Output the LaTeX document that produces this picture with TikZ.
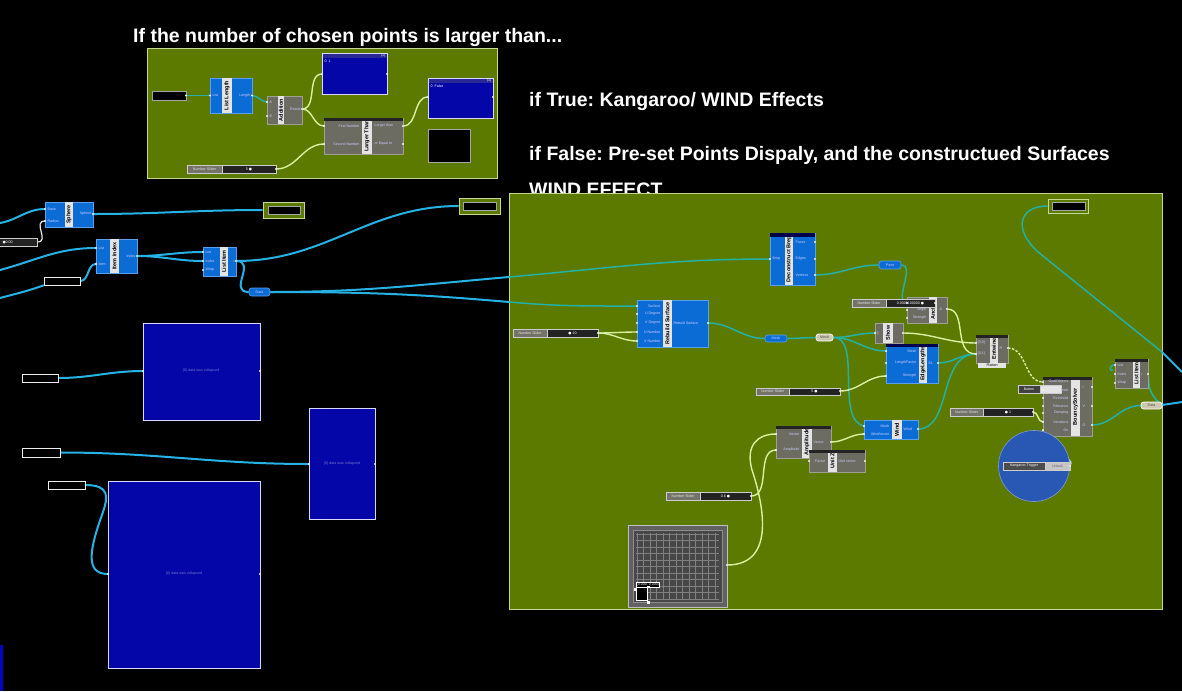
\documentclass[tikz,border=0pt]{standalone}
\usepackage{fontspec}
\setmainfont{Liberation Sans}
\newfontfamily\djv{DejaVu Sans}
\usetikzlibrary{fit,calc}
\definecolor{ghol}{RGB}{92,122,0}
\definecolor{ghbd}{RGB}{200,215,150}
\definecolor{ghblue}{RGB}{12,108,214}
\definecolor{ghblueb}{RGB}{90,160,235}
\definecolor{ghgray}{RGB}{108,108,98}
\definecolor{ghgrayb}{RGB}{160,160,145}
\definecolor{ghstrip}{RGB}{228,228,228}
\definecolor{ghpanel}{RGB}{4,6,168}
\definecolor{ghhead}{RGB}{40,40,150}
\definecolor{wcyan}{RGB}{38,178,228}
\definecolor{wteal}{RGB}{36,176,164}
\definecolor{wyel}{RGB}{216,240,160}
\definecolor{sdark}{RGB}{35,35,35}
\definecolor{slabc}{RGB}{115,115,105}
\definecolor{ghcirc}{RGB}{40,88,180}
\definecolor{ghbeige}{RGB}{205,200,175}
\pgfdeclarelayer{bg}
\pgfdeclarelayer{wires}
\pgfsetlayers{bg,wires,main}
\frenchspacing
\tikzset{
 gbox/.style={fill=ghol, draw=ghbd, line width=0.8pt, inner sep=0pt},
 compblue/.style={fill=ghblue, draw=ghblueb, line width=0.7pt, inner sep=0pt},
 compgray/.style={fill=ghgray, draw=ghgrayb, line width=0.7pt, inner sep=0pt},
 stripbox/.style={fill=ghstrip, draw=none, inner sep=0pt},
 striplab/.style={rotate=90, font=\fontsize{5.5}{6}\selectfont\bfseries, text=black, inner sep=0pt},
 plab/.style={font=\fontsize{3.6}{4}\selectfont, text=white!80!blue, inner sep=0.4pt},
 plw/.style={plab, anchor=west},
 ple/.style={plab, anchor=east},
 blkbox/.style={fill=black, draw=gray!70, line width=0.6pt, inner sep=0pt},
 wbbox/.style={fill=black, draw=white!85!gray, line width=0.45pt, inner sep=0pt},
 panelbox/.style={fill=ghpanel, draw=white!85!blue, line width=0.8pt, inner sep=0pt},
 pillb/.style={fill=ghblue, draw=ghblueb, rounded corners=2.5pt, line width=0.6pt, inner sep=0pt},
 pillg/.style={fill=ghbeige, draw=white, rounded corners=2.5pt, line width=0.6pt, inner sep=0pt},
 slabbox/.style={fill=slabc, draw=gray!40, line width=0.5pt, inner sep=0pt},
 svalbox/.style={fill=sdark, draw=gray!40, line width=0.5pt, inner sep=0pt},
 wc/.style={draw=wcyan, line width=2pt},
 wt/.style={draw=wteal, line width=1.5pt},
 wy/.style={draw=wyel, line width=1.4pt},
 portdot/.style={fill=white!90!gray},
 title/.style={font=\fontsize{19.5}{22}\selectfont\bfseries, text=white, anchor=base west, inner sep=0pt},
}
\newcommand\ghc[9]{%
 \node[#6, fit={(#2,#3)(#4,#5)}] (#1) {};
 \node[stripbox, fit={(#7,#3)(#8,#5)}] (#1s) {};
 \node[striplab] at (#1s.center) {#9};}
\newcommand\nslider[7]{%
 \node[slabbox, fit={(#2,#3)(#4,#6)}] (#1) {};
 \node[svalbox, fit={(#4,#3)(#5,#6)}] (#1v) {};
 \node[plab, text=white!80!gray] at (#1.center) {Number Slider};
 \node[plab, text=white] at (#1v.center) {#7};}
\newcommand\pd[3]{\coordinate (#1) at (#2,#3); \fill[portdot] (#1) circle (1.2pt);}
\begin{document}
\begin{tikzpicture}[x=1pt,y=-1pt]
\begin{pgfonlayer}{bg}
\fill[black] (0,0) rectangle (1182,691);
\node[title] (t1) at (133,42) {If the number of chosen points is larger than...};
\node[title] (t2) at (529,106) {if True: Kangaroo/ WIND Effects};
\node[title] (t3) at (529,160) {if False: Pre-set Points Dispaly, and the constructued Surfaces};
\node[title] (t4) at (529,196) {WIND EFFECT};
\node[gbox, fit={(147,48)(497,178)}] (G1) {};
\node[gbox, fit={(509,193)(1162,609)}] (G2) {};
\fill[ghpanel!70!blue] (0,645) rectangle (2.5,691);
\end{pgfonlayer}
\useasboundingbox (0,0) rectangle (1182,691);
% ---------- top group
\node[blkbox, fit={(152,91)(186,100)}] (s0) {};
\ghc{ll}{210}{78}{252}{113}{compblue}{222}{232}{List Length}
\node[plw] at (212,95.5) {List}; \node[ple] at (251,95.5) {Length};
\ghc{add}{267}{96}{302}{124}{compgray}{278}{284}{Addition}
\node[plw] at (269,102) {A}; \node[plw] at (269,116) {B}; \node[ple] at (301,109) {Result};
\node[panelbox, fit={(322,53)(387,94)}] (p1) {};
\fill[ghhead] (322.5,53.5) rectangle (386.5,58);
\node[plw, text=white] at (324,61.5) {0\ \ 1};
\node[ple, text=white] at (386,55.8) {(1)};
\node[panelbox, fit={(428,78)(493,118)}] (p2) {};
\fill[ghhead] (428.5,78.5) rectangle (492.5,83);
\node[plw, text=white] at (430,86.5) {0\ \ False};
\node[ple, text=white] at (492,80.8) {(1)};
\ghc{lt}{324}{118}{403}{154}{compgray}{362}{372}{Larger Than}
\fill[sdark] (324.4,118.4) rectangle (402.6,121);
\node[ple] at (360,126) {First Number}; \node[ple] at (360,144) {Second Number};
\node[plw] at (374,126) {Larger than}; \node[plw] at (374,144) {or Equal to};
\node[blkbox, fit={(428,129)(470,162)}] (bq) {};
\nslider{ns1}{187}{165}{222}{276}{173}{5 {\djv●}}
% ---------- left area
\ghc{sph}{45}{202}{93}{227}{compblue}{65}{73}{Sphere}
\node[plw] at (47,209) {Base}; \node[plw] at (47,221) {Radius}; \node[ple] at (92,214) {Sphere};
\node[gbox, fit={(263,202)(304,218)}] (gb1) {};
\node[blkbox, fit={(268,206)(300,214)}] (gb1i) {};
\node[gbox, fit={(459,198)(500,214)}] (gb2) {};
\node[blkbox, fit={(463,202)(496,210)}] (gb2i) {};
\node[svalbox, fit={(-2,238)(37,246)}] (sl0) {};
\node[plw, text=white] at (2,242) {{\djv●}0.00};
\ghc{ii}{96}{239}{137}{273}{compblue}{110}{119}{Item Index}
\node[plw] at (98,248) {List}; \node[plw] at (98,264) {Item}; \node[ple] at (136,256) {Index};
\ghc{li}{203}{247}{236}{276}{compblue}{220}{228}{List Item}
\node[plw] at (205,252) {List}; \node[plw] at (205,261) {Index}; \node[plw] at (205,270) {Wrap}; \node[ple] at (235,261) {i};
\node[wbbox, fit={(44,277)(80,285)}] (br1) {};
\node[pillb, fit={(249,288)(270,296)}] (data) {};
\node[plab] at (data.center) {Data};
\node[panelbox, fit={(143,323)(260,420)}] (p3) {};
\node[plab, text=ghpanel!55!white] at (201,371) {\{0\} data was collapsed};
\node[panelbox, fit={(309,408)(375,519)}] (p4) {};
\node[plab, text=ghpanel!55!white] at (342,464) {\{0\} data was collapsed};
\node[panelbox, fit={(108,481)(260,668)}] (p5) {};
\node[plab, text=ghpanel!55!white] at (184,574) {\{0\} data was collapsed};
\node[wbbox, fit={(22,374)(58,382)}] (br2) {};
\node[wbbox, fit={(22,448)(60,457)}] (br3) {};
\node[wbbox, fit={(48,481)(85,489)}] (br4) {};
% ---------- main group
\ghc{db}{770}{233}{815}{285}{compblue}{785}{793}{Deconstruct Brep}
\fill[black!70!blue] (770.4,233.4) rectangle (814.6,237);
\node[plw] at (772,259) {Brep};
\node[plw] at (795,242) {Faces}; \node[plw] at (795,259) {Edges}; \node[plw] at (795,275) {Vertices};
\node[pillb, fit={(879,261)(901,269)}] (pt) {};
\node[plab] at (pt.center) {Point};
\ghc{anc}{907}{297}{947}{323}{compgray}{929}{937}{Anchor}
\node[ple] at (927,310) {Target}; \node[ple] at (927,318) {Strength}; \node[plw] at (939,309) {A};
\nslider{ns3}{852}{299}{886}{935}{307}{0.0000100000 {\djv●}}
\ghc{rs}{637}{300}{708}{347}{compblue}{663}{672}{Rebuild Surface}
\node[ple] at (661,306) {Surface}; \node[ple] at (661,314) {U Degree}; \node[ple] at (661,323) {V Degree};
\node[ple] at (661,332) {U Number}; \node[ple] at (661,341) {V Number};
\node[plw] at (673,323) {Rebuilt Surface};
\nslider{ns2}{513}{329}{547}{598}{337}{{\djv●} 10}
\node[pillb, fit={(765,335)(787,342)}] (mesh1) {};
\node[plab] at (mesh1.center) {Mesh};
\node[pillg, fit={(816,334)(833,341)}] (mesh2) {};
\node[plab, text=black!70] at (mesh2.center) {Mesh};
\ghc{sh}{875}{323}{903}{343}{compgray}{883}{893}{Show}
\node[plw] at (876,333) {C};
\ghc{el}{886}{344}{938}{383}{compblue}{919}{927}{EdgeLengths}
\fill[black!70!blue] (886.4,344.4) rectangle (937.6,347);
\node[ple] at (917,351) {Mesh}; \node[ple] at (917,363) {LengthFactor}; \node[ple] at (917,376) {Strength};
\node[plw] at (928,363) {EL};
\ghc{ent}{976}{335}{1008}{363}{compgray}{990}{998}{Entwine}
\fill[sdark] (976.4,335.4) rectangle (1007.6,338);
\node[plw] at (977,343) {\{0;0\}}; \node[plw] at (977,354) {\{0;1\}}; \node[plw] at (999,348) {R};
\node[fill=ghstrip, inner sep=0pt, fit={(978,363)(1006,368)}] (flat) {};
\node[plab, text=black] at (flat.center) {Flatten};
\nslider{ns4}{756}{388}{789}{840}{395}{5 {\djv●}}
\ghc{wd}{864}{420}{918}{439}{compblue}{892}{902}{Wind}
\node[ple] at (890,426) {Mesh}; \node[ple] at (890,434) {WindVector}; \node[plw] at (903,429) {Wind};
\nslider{ns5}{950}{408}{983}{1033}{416}{{\djv●} 1}
\ghc{amp}{776}{426}{831}{458}{compgray}{802}{812}{Amplitude}
\fill[sdark] (776.4,426.4) rectangle (830.6,429);
\node[ple] at (800,434) {Vector}; \node[ple] at (800,450) {Amplitude}; \node[plw] at (813,442) {Vector};
\ghc{uz}{809}{450}{865}{472}{compgray}{828}{837}{Unit Z}
\fill[sdark] (809.4,450.4) rectangle (864.6,453);
\node[ple] at (826,461) {Factor}; \node[plw] at (838,461) {Unit vector};
\nslider{ns6}{666}{492}{700}{751}{500}{0.6 {\djv●}}
% graph mapper
\node[fill=black!62, draw=black!25, line width=1pt, inner sep=0pt, fit={(628,525)(727,607)}] (gm) {};
\node[fill=black!72, draw=black!45, line width=0.6pt, inner sep=0pt, fit={(633,530)(722,602)}] (gmi) {};
\foreach \gx in {637,643.5,...,718} {\draw[black!50, line width=0.3pt] (\gx,533) -- (\gx,599);}
\foreach \gy in {534,540.5,...,599} {\draw[black!50, line width=0.3pt] (636,\gy) -- (719,\gy);}
\node[fill=black, draw=white!80, line width=0.4pt, inner sep=0.5pt, anchor=south west,
  font=\fontsize{3.6}{4}\selectfont, text=white] (gml) at (636,587) {(0.000, 0.000)};
\node[blkbox, draw=white, fit={(636,587)(647,600)}] (gmb) {};
\fill[white] (634,588) rectangle (636.5,590.5);
\fill[white] (647,601) rectangle (649.5,603.5);
\fill[white] (647,585.5) rectangle (649.5,588);
% solver etc.
\ghc{bs}{1043}{377}{1092}{436}{compgray}{1071}{1080}{BouncySolver}
\fill[sdark] (1043.4,377.4) rectangle (1091.6,380);
\foreach \yy/\tt in {382/GoalObjects,390/Reset,398/Threshold,406/Tolerance,413/Damping,422/Iterations,430/On}
  {\node[ple] at (1069,\yy) {\tt};}
\node[plw] at (1082,387) {I}; \node[plw] at (1082,406) {V}; \node[plw] at (1082,425) {O};
\node[slabbox, fill=black!75, fit={(1018,385)(1040,393)}] (btn) {};
\node[fill=ghstrip, draw=gray!40, line width=0.5pt, inner sep=0pt, fit={(1040,385)(1061,393)}] (btnv) {};
\node[plab, text=white] at (btn.center) {Button};
\ghc{li2}{1115}{359}{1148}{388}{compgray}{1133}{1140}{List Item}
\fill[sdark] (1115.4,359.4) rectangle (1147.6,362);
\node[plw] at (1117,365) {List}; \node[plw] at (1117,374) {Index}; \node[plw] at (1117,383) {Wrap}; \node[plw] at (1141,374) {i};
\node[pillg, fit={(1141,402)(1162,409)}] (pl2) {};
\node[plab, text=black!70] at (pl2.center) {Data};
\node[circle, fill=ghcirc, draw=ghcirc!60!white, line width=0.6pt, minimum size=71pt, inner sep=0pt] (cir) at (1034,466) {};
\node[slabbox, fill=black!70, fit={(1003,462)(1045,470)}] (tg) {};
\node[fill=ghstrip!70!gray, draw=gray!40, line width=0.5pt, inner sep=0pt, fit={(1045,462)(1070,470)}] (tgv) {};
\node[plab, text=white] at (tg.center) {Kangaroo Trigger};
\node[plab, text=black!60] at (tgv.center) {Unlock};
\node[gbox, fit={(1048,199)(1088,213)}] (gb3) {};
\node[blkbox, fit={(1052,202)(1085,210)}] (gb3i) {};
% ---------- ports
\pd{s0o}{186}{95.5}
\pd{llin}{210}{95.5} \pd{llout}{252}{95.5}
\pd{addA}{267}{102} \pd{addB}{267}{116} \pd{addR}{302}{109}
\pd{p1in}{322}{74} \pd{p1out}{387}{74}
\pd{p2in}{428}{97} \pd{p2out}{493}{97}
\pd{ltA}{324}{126} \pd{ltB}{324}{144} \pd{ltG}{403}{126} \pd{ltE}{403}{144}
\pd{ns1o}{276}{169}
\pd{sphB}{45}{209} \pd{sphR}{45}{221} \pd{spho}{93}{214}
\pd{iiL}{96}{248} \pd{iiI}{96}{264} \pd{iio}{137}{256}
\pd{liL}{203}{252} \pd{liI}{203}{261} \pd{liW}{203}{270} \pd{lio}{236}{261}
\pd{p3in}{143}{371} \pd{p3out}{260}{371}
\pd{p4in}{309}{464} \pd{p4out}{375}{464}
\pd{p5in}{108}{574} \pd{p5out}{260}{574}
\pd{dbB}{770}{259} \pd{dbF}{815}{242} \pd{dbE}{815}{259} \pd{dbV}{815}{275}
\pd{ancP}{907}{303} \pd{ancT}{907}{310} \pd{ancS}{907}{318} \pd{ancA}{947}{309}
\pd{ns3o}{935}{303}
\pd{rsS}{637}{306} \pd{rsU}{637}{314} \pd{rsV}{637}{323} \pd{rsUN}{637}{332} \pd{rsVN}{637}{341} \pd{rso}{708}{323}
\pd{ns2o}{598}{333}
\pd{shC}{875}{333} \pd{sho}{903}{333}
\pd{elM}{886}{351} \pd{elL}{886}{363} \pd{elS}{886}{376} \pd{elo}{938}{363}
\pd{entA}{976}{343} \pd{entB}{976}{354} \pd{ento}{1008}{348}
\pd{ns4o}{840}{391}
\pd{wdM}{864}{426} \pd{wdV}{864}{434} \pd{wdo}{918}{429}
\pd{ns5o}{1033}{412}
\pd{ampV}{776}{434} \pd{ampA}{776}{450} \pd{ampo}{831}{442}
\pd{uzF}{809}{461} \pd{uzo}{865}{461}
\pd{ns6o}{751}{496}
\pd{gmo}{727}{565}
\pd{bsG}{1043}{382} \pd{bsR}{1043}{390} \pd{bsT}{1043}{398} \pd{bsTo}{1043}{406} \pd{bsD}{1043}{413} \pd{bsIt}{1043}{422} \pd{bsOn}{1043}{430}
\pd{bsI}{1092}{387} \pd{bsV}{1092}{406} \pd{bsO}{1092}{425}
\pd{li2L}{1115}{365} \pd{li2I}{1115}{374} \pd{li2W}{1115}{383} \pd{li2o}{1148}{374}
\pd{tgo}{1070}{466}
\coordinate (L1) at (0,223); \coordinate (L2) at (0,270); \coordinate (L3) at (0,298);
\coordinate (E1) at (509,277); \coordinate (E2) at (509,302);
\coordinate (R1) at (1162,352); \coordinate (R1o) at (1182,372);
\coordinate (R2) at (1162,405); \coordinate (R2o) at (1182,402);
% ---------- wires
\begin{pgfonlayer}{wires}
\draw[wt] (s0.east) to[out=0,in=180] (llin);
\draw[wt] (llout) to[out=0,in=180] (addA);
\draw[wy] (addR) to[out=0,in=180] (p1in);
\draw[wy] (addR) to[out=0,in=180] (ltA);
\draw[wy] (ltG) to[out=0,in=180] (p2in);
\draw[wy] (ns1o) to[out=0,in=180] (ltB);
\draw[wc] (L1) to[out=10,in=180] (sphB);
\draw[white!85!gray, line width=1.2pt] (sl0.east) to[out=0,in=180,looseness=1.5] (sphR);
\draw[wc] (spho) to[out=0,in=180] (gb1.west);
\draw[wc] (L2) to[out=15,in=180] (iiL);
\draw[wc] (L3) to[out=15,in=200] (br1.south west);
\draw[wc] (br1.east) to[out=0,in=180] (iiI);
\draw[wc] (iio) to[out=0,in=180] (liL);
\draw[wc] (iio) to[out=0,in=180] (liI);
\draw[wc] (lio) to[out=0,in=180] (gb2.west);
\draw[wc] (lio) to[out=0,in=180,looseness=1.6] (data.west);
\draw[wc] (data.east) to[out=0,in=185] (E1);
\draw[wc] (data.east) to[out=0,in=175] (E2);
\draw[wc] (br2.east) to[out=0,in=180] (p3in);
\draw[wc] (br3.east) to[out=0,in=180] (p4in);
\draw[wc] (br4.east) .. controls (110,485) and (108,497) .. (103,512) .. controls (90,548) and (84,574) .. (p5in);
\draw[wt] (E1) to[out=5,in=180] (dbB);
\draw[wt] (E2) to[out=-5,in=180] (rsS);
\draw[wt] (dbV) to[out=0,in=180] (pt.west);
\draw[wt] (pt.east) .. controls (916,265) and (893,302) .. (ancP);
\draw[wt] (rso) to[out=0,in=180] (mesh1.west);
\draw[wt] (mesh1.east) to[out=0,in=180] (mesh2.west);
\draw[wt] (mesh2.east) to[out=0,in=180] (shC);
\draw[wt] (mesh2.east) to[out=0,in=180] (elM);
\draw[wt] (mesh2.east) .. controls (862,337) and (835,420) .. (wdM);
\draw[wt] (elo) to[out=0,in=180] (entB);
\draw[wt] (wdo) .. controls (952,429) and (938,354) .. (entB);
\draw[wy] (ancA) .. controls (968,309) and (952,354) .. (entB);
\draw[wy] (sho) to[out=0,in=180] (entA);
\draw[wy] (ns2o) to[out=0,in=180] (rsUN);
\draw[wy] (ns2o) to[out=0,in=180] (rsVN);
\draw[wy] (ns4o) to[out=0,in=180] (elS);
\draw[wy] (ampo) to[out=0,in=180] (wdV);
\draw[wy] (ns6o) to[out=0,in=180] (ampA);
\draw[wy] (gmo) .. controls (778,565) and (762,500) .. (752,470) .. controls (745,445) and (758,434) .. (ampV);
\draw[wy, dashed, dash pattern=on 2.5pt off 1.5pt] (ento) to[out=0,in=180] (bsG);
\draw[wy] (ns5o) to[out=0,in=180] (bsIt);
\draw[white!75!cyan, line width=1.2pt] (tgo) .. controls (1078,458) and (1040,448) .. (bsOn);
\draw[wt] (bsO) to[out=0,in=180] (pl2.west);
\draw[wt] (li2o) .. controls (1150,380) and (1145,392) .. (R2);
\draw[wt] (pl2.east) -- (R2);
\draw[wc] (R2) -- (R2o);
\draw[wt] (gb3.west) .. controls (1020,206) and (1012,228) .. (1038,252) -- (R1);
\draw[wc] (R1) -- (R1o);
\draw[wt] (li2L) .. controls (1108,365) and (1110,372) .. (1113,370);
\end{pgfonlayer}
\end{tikzpicture}
\end{document}
